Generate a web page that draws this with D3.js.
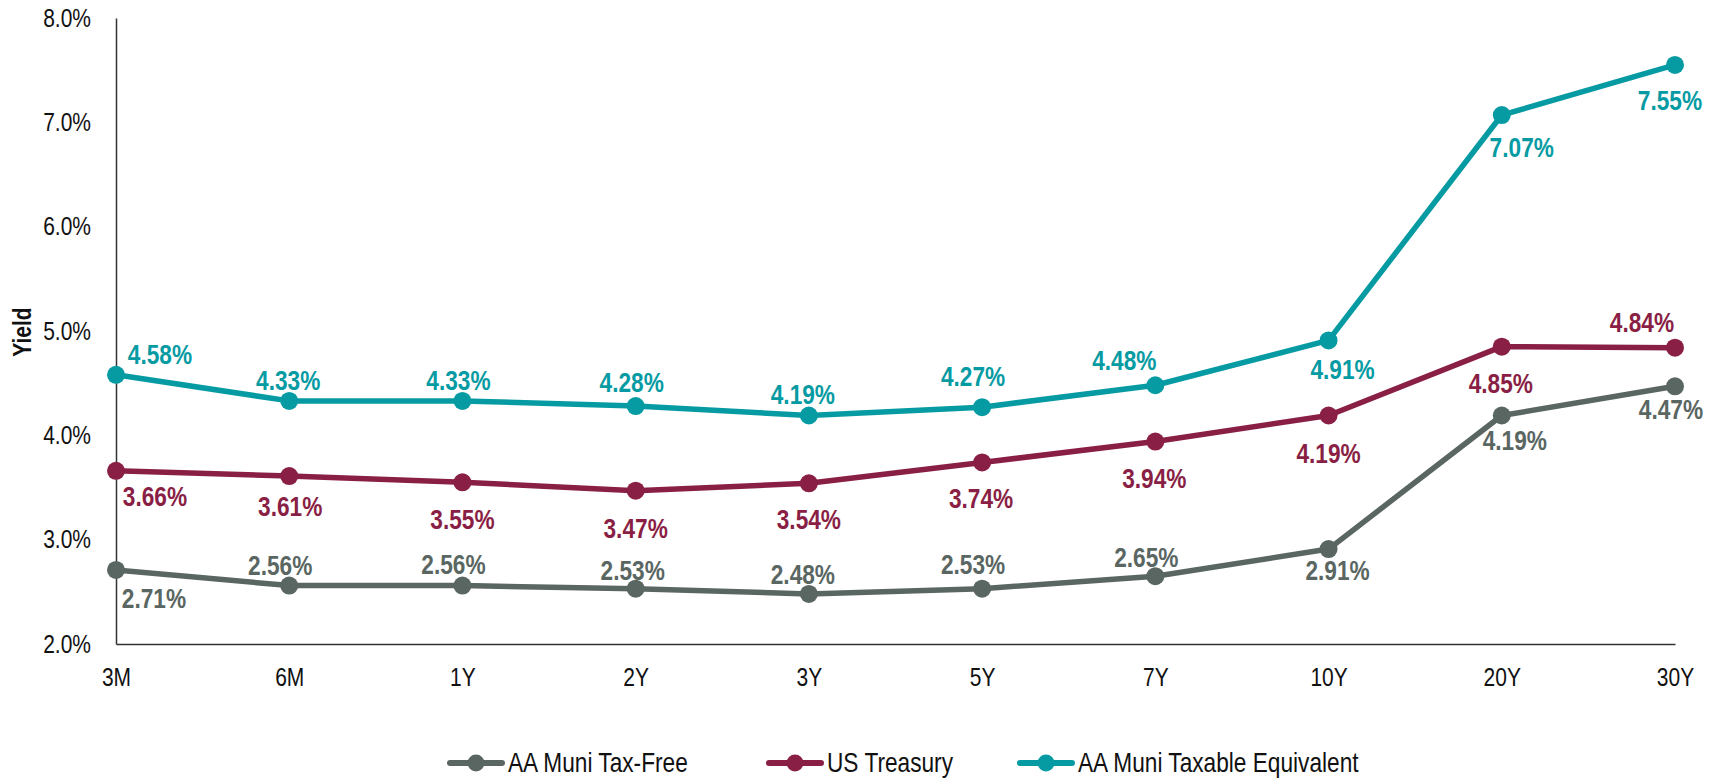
<!DOCTYPE html>
<html>
<head>
<meta charset="utf-8">
<script src="https://cdn.jsdelivr.net/npm/d3@7"></script>
<style>
  body { margin: 0; background: #fff; }
  svg { display: block; font-family: "Liberation Sans Narrow", "Arial Narrow", "Liberation Sans", Arial, sans-serif; }
  /* no narrow font installed, so squeeze the regular one */
  .narrow { transform-box: fill-box; transform-origin: center; transform: scaleX(0.84); }
  .narrow-end { transform-box: fill-box; transform-origin: right center; transform: scaleX(0.84); }
  .narrow-start { transform-box: fill-box; transform-origin: left center; transform: scaleX(0.84); }
</style>
</head>
<body>
<svg id="chart" width="1711" height="778"></svg>
<script>
// Data
const tenors = ["3M", "6M", "1Y", "2Y", "3Y", "5Y", "7Y", "10Y", "20Y", "30Y"];
const yTicks = [2, 3, 4, 5, 6, 7, 8];
const muniTaxFree = [2.71, 2.56, 2.56, 2.53, 2.48, 2.53, 2.65, 2.91, 4.19, 4.47];
const usTreasury = [3.66, 3.61, 3.55, 3.47, 3.54, 3.74, 3.94, 4.19, 4.85, 4.84];
const muniTaxableEq = [4.58, 4.33, 4.33, 4.28, 4.19, 4.27, 4.48, 4.91, 7.07, 7.55];
const seriesNames = ["AA Muni Tax-Free", "US Treasury", "AA Muni Taxable Equivalent"];

// label placement (dx, baseline dy) per point, as in the original
const nudgeGray = [[38, 38], [-9, -11], [-9, -12], [-3, -9], [-6, -10], [-9, -15], [-9, -9], [9, 31], [13, 34], [-4, 33]];
const nudgeRed = [[39, 35], [1, 40], [0, 47], [0, 47], [0, 46], [-1, 46], [-1, 46], [0, 47], [-1, 46], [-33, -16]];
const nudgeTeal = [[44, -11], [-1, -11], [-4, -11], [-4, -14], [-6, -12], [-9, -21], [-31, -15], [14, 39], [20, 42], [-5, 45]];

const width = 1711, height = 778;
const margin = { top: 18, right: 36, bottom: 134, left: 116 };
const svg = d3.select("#chart");

const series = [
  { name: seriesNames[0], values: muniTaxFree, color: "#5A6662", nudge: nudgeGray },
  { name: seriesNames[1], values: usTreasury, color: "#8A1F45", nudge: nudgeRed },
  { name: seriesNames[2], values: muniTaxableEq, color: "#069BA3", nudge: nudgeTeal }
];

const x = d3.scalePoint()
  .domain(tenors)
  .range([margin.left, width - margin.right]);

const y = d3.scaleLinear()
  .domain([2, 8])
  .range([height - margin.bottom, margin.top]);

// y axis
const yAxis = svg.append("g")
  .attr("transform", `translate(${margin.left},0)`)
  .call(d3.axisLeft(y).tickValues(yTicks).tickSize(0).tickPadding(25).tickFormat(d => d.toFixed(1) + "%"));
yAxis.select(".domain").attr("stroke", "#333").attr("stroke-width", 1.5);
yAxis.selectAll("text")
  .attr("class", "narrow-end")
  .attr("font-size", 25).attr("fill", "#111").attr("font-family", null);

// x axis
const xAxis = svg.append("g")
  .attr("transform", `translate(0,${height - margin.bottom})`)
  .call(d3.axisBottom(x).tickSize(0).tickPadding(24));
xAxis.select(".domain").attr("stroke", "#333").attr("stroke-width", 1.5);
xAxis.selectAll("text")
  .attr("class", "narrow")
  .attr("font-size", 25).attr("fill", "#111").attr("font-family", null);

// axis title
svg.append("g")
  .attr("transform", `translate(31,332) rotate(-90)`)
  .append("text")
  .attr("class", "narrow")
  .attr("text-anchor", "middle")
  .attr("font-size", 25)
  .attr("font-weight", "bold")
  .attr("fill", "#111")
  .text("Yield");

const line = d3.line()
  .x((d, i) => x(tenors[i]))
  .y(d => y(d));

series.forEach(s => {
  const g = svg.append("g");
  g.append("path")
    .datum(s.values)
    .attr("d", line)
    .attr("fill", "none")
    .attr("stroke", s.color)
    .attr("stroke-width", 5.5)
    .attr("stroke-linejoin", "round");

  g.selectAll("circle")
    .data(s.values)
    .enter()
    .append("circle")
    .attr("cx", (d, i) => x(tenors[i]))
    .attr("cy", d => y(d))
    .attr("r", 9)
    .attr("fill", s.color);

  g.selectAll("text")
    .data(s.values)
    .enter()
    .append("text")
    .attr("class", "narrow")
    .attr("x", (d, i) => x(tenors[i]) + s.nudge[i][0])
    .attr("y", (d, i) => y(d) + s.nudge[i][1])
    .attr("text-anchor", "middle")
    .attr("font-size", 27)
    .attr("font-weight", "bold")
    .attr("fill", s.color)
    .text(d => d.toFixed(2) + "%");
});

// legend
const legendX = [448, 767, 1018];
const legendY = 763;
const legend = svg.append("g");
series.forEach((s, i) => {
  const lg = legend.append("g").attr("transform", `translate(${legendX[i]},${legendY})`);
  lg.append("line")
    .attr("x1", 2).attr("x2", 54)
    .attr("stroke", s.color)
    .attr("stroke-width", 6)
    .attr("stroke-linecap", "round");
  lg.append("circle")
    .attr("cx", 28).attr("r", 8.5)
    .attr("fill", s.color);
  lg.append("text")
    .attr("class", "narrow-start")
    .attr("x", 60)
    .attr("dy", "0.35em")
    .attr("font-size", 27)
    .attr("fill", "#111")
    .text(s.name);
});
</script>
</body>
</html>
